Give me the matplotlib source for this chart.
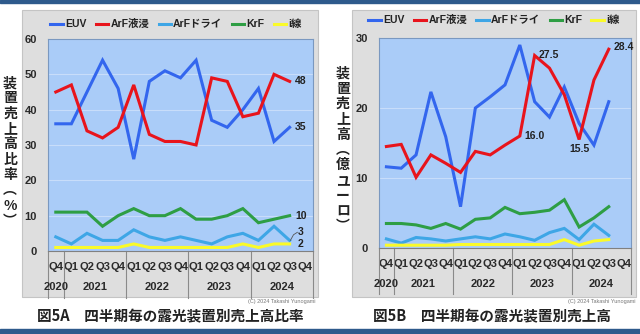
import matplotlib.pyplot as plt
import matplotlib.transforms as mtransforms
from matplotlib.patches import Rectangle

plt.rcParams['font.family'] = ['Liberation Sans', 'Noto Sans CJK JP', 'DejaVu Sans']
plt.rcParams['font.weight'] = 'bold'

quarters = ["Q4", "Q1", "Q2", "Q3", "Q4", "Q1", "Q2", "Q3", "Q4",
            "Q1", "Q2", "Q3", "Q4", "Q1", "Q2", "Q3", "Q4"]
years = ["2020", "2021", "2022", "2023", "2024"]
year_pos = [0, 2.5, 6.5, 10.5, 14.5]
year_bounds = [-0.5, 0.5, 4.5, 8.5, 12.5, 16.5]
series_names = ["EUV", "ArF液浸", "ArFドライ", "KrF", "i線"]
colors = ["#3366ee", "#e8141c", "#3ea6e6", "#2e9e44", "#fafa2a"]

# share of sales (%) Q4 2020 .. Q3 2024
share_euv = [36, 36, 45, 54, 46, 26, 48, 51, 49, 54, 37, 35, 40, 46, 31, 35]
share_arfi = [45, 47, 34, 32, 35, 47, 33, 31, 31, 30, 49, 48, 38, 39, 50, 48]
share_arfdry = [4, 2, 5, 3, 3, 6, 4, 3, 4, 3, 2, 4, 5, 3, 7, 3]
share_krf = [11, 11, 11, 7, 10, 12, 10, 10, 12, 9, 9, 10, 12, 8, 9, 10]
share_iline = [1, 1, 1, 1, 1, 2, 1, 1, 1, 1, 1, 1, 2, 1, 2, 2]

# sales (100M EUR) Q4 2020 .. Q3 2024
sales_euv = [11.6, 11.4, 13.3, 22.3, 15.9, 5.9, 20.0, 21.6, 23.3, 29.0,
             20.9, 18.7, 23.0, 17.8, 14.7, 20.9]
sales_arfi = [14.5, 14.8, 10.1, 13.3, 12.1, 10.8, 13.8, 13.3, 14.7, 16.0,
              27.5, 25.7, 21.9, 15.5, 24.0, 28.4]
sales_arfdry = [1.3, 0.7, 1.5, 1.3, 1.0, 1.3, 1.6, 1.3, 2.0, 1.6,
                1.1, 2.2, 2.8, 1.2, 3.4, 1.8]
sales_krf = [3.5, 3.5, 3.3, 2.8, 3.5, 2.7, 4.1, 4.3, 5.8, 4.9,
             5.1, 5.4, 6.9, 3.0, 4.3, 5.9]
sales_iline = [0.4, 0.4, 0.4, 0.4, 0.4, 0.5, 0.5, 0.5, 0.5, 0.5,
               0.5, 0.5, 1.2, 0.4, 1.0, 1.2]

W, H = 640, 334
fig = plt.figure(figsize=(6.4, 3.34), dpi=100)
fig.patch.set_facecolor("white")


def px_rect(x0, y0, x1, y1):
    return [x0 / W, 1 - y1 / H, (x1 - x0) / W, (y1 - y0) / H]


# header / footer rules
fig.patches.append(Rectangle((0, 1 - 3 / H), 1, 3 / H, transform=fig.transFigure,
                             color="#2e5a8c", zorder=-2))
fig.patches.append(Rectangle((0, 0), 1, 5 / H, transform=fig.transFigure,
                             color="#2e5a8c", zorder=-2))

# grey chart boxes
for x0, x1 in [(22, 318), (352, 636)]:
    r = px_rect(x0, 10, x1, 297)
    fig.patches.append(Rectangle((r[0], r[1]), r[2], r[3], transform=fig.transFigure,
                                 facecolor="#dedede", edgecolor="#c4c4c4", lw=0.8, zorder=-2))


def draw_panel(ax, data, ymax, ystep, leg_x, leg_y):
    ax.set_facecolor("#aaccf8")
    x = list(range(len(data[0])))
    for vals, c, name in zip(data, colors, series_names):
        ax.plot(x, vals, color=c, lw=2.2, label=name, solid_joinstyle="miter")
    ax.set_xlim(-0.5, 16.5)
    ax.set_ylim(0, ymax)
    ax.set_yticks(range(0, ymax + 1, ystep))
    ax.yaxis.grid(True, color="#c8ddfa", lw=0.8)
    ax.set_axisbelow(True)
    ax.set_xticks(range(17))
    ax.set_xticklabels(quarters)
    ax.tick_params(length=0, labelsize=8, labelcolor="#2a2a2a")
    ax.tick_params(axis="x", pad=8)
    ax.tick_params(axis="y", pad=8)
    for side in ["top", "right", "left"]:
        ax.spines[side].set_color("#7a98c0")
    ax.spines["bottom"].set_color("#808080")
    trans = mtransforms.blended_transform_factory(ax.transData, ax.transAxes)
    for b in year_bounds:
        ax.plot([b, b], [0, -0.22], color="#8a8a8a", lw=0.8, transform=trans, clip_on=False)
    for yr, p in zip(years, year_pos):
        ax.text(p, -0.17, yr, transform=trans, ha="center", va="center",
                fontsize=8, color="#2a2a2a")
    ax.legend(loc="center", bbox_to_anchor=(leg_x, leg_y), ncol=5, frameon=False,
              handlelength=1.2, handletextpad=0.2, columnspacing=0.9, fontsize=7.5,
              labelcolor="#222222")


ax1 = fig.add_axes(px_rect(48, 39, 313, 251))
draw_panel(ax1, [share_euv, share_arfi, share_arfdry, share_krf, share_iline],
           60, 10, 0.483, 1.07)
ax2 = fig.add_axes(px_rect(379, 38, 631, 248))
draw_panel(ax2, [sales_euv, sales_arfi, sales_arfdry, sales_krf, sales_iline],
           30, 10, 0.456, 1.085)

# value labels, left panel
lbl = dict(fontsize=7.5, color="#222222", va="center")
ax1.text(15.35, share_arfi[-1], str(share_arfi[-1]), ha="left", **lbl)
ax1.text(15.35, share_euv[-1], str(share_euv[-1]), ha="left", **lbl)
ax1.text(15.4, share_krf[-1], str(share_krf[-1]), ha="left", **lbl)
ax1.text(15.5, 5.5, str(share_arfdry[-1]), ha="left", **lbl)
ax1.text(15.5, 2.0, str(share_iline[-1]), ha="left", **lbl)
ax1.plot([15.05, 15.25, 15.5], [3.0, 4.6, 5.3], color="#555555", lw=0.6)

# value labels, right panel
ax2.text(9.3, sales_arfi[9], f"{sales_arfi[9]:.1f}", ha="left", **lbl)
ax2.text(10.3, sales_arfi[10], f"{sales_arfi[10]:.1f}", ha="left", **lbl)
ax2.text(13, sales_arfi[13] - 1.4, f"{sales_arfi[13]:.1f}", ha="center", **lbl)
ax2.text(15.3, sales_arfi[15] + 0.3, f"{sales_arfi[15]:.1f}", ha="left", **lbl)

# vertical axis titles
vlabel = dict(ha="center", va="center", fontsize=10, linespacing=1.12, color="#222222",
              family=["Noto Sans CJK JP", "DejaVu Sans"], weight="bold")
fig.text(10 / W, 1 - 152 / H, "\n".join("装置売上高比率︵%︶"), **vlabel)
fig.text(343 / W, 1 - 150 / H, "\n".join("装置売上高︵億ユーロ︶"), **vlabel)

# copyright notes
fig.text(316 / W, 1 - 302 / H, "(C) 2024 Takashi Yunogami", ha="right", va="center",
         fontsize=4, color="#777777", weight="normal")
fig.text(636 / W, 1 - 302 / H, "(C) 2024 Takashi Yunogami", ha="right", va="center",
         fontsize=4, color="#777777", weight="normal")

# captions
cap = dict(ha="center", va="center", fontsize=10.5, color="#222222",
           family=["Noto Sans CJK JP", "DejaVu Sans"], weight="bold")
fig.text(170 / W, 1 - 316 / H, "図5A　四半期毎の露光装置別売上高比率", **cap)
fig.text(492 / W, 1 - 316 / H, "図5B　四半期毎の露光装置別売上高", **cap)

fig.savefig("out.png", dpi=100, facecolor="white")
